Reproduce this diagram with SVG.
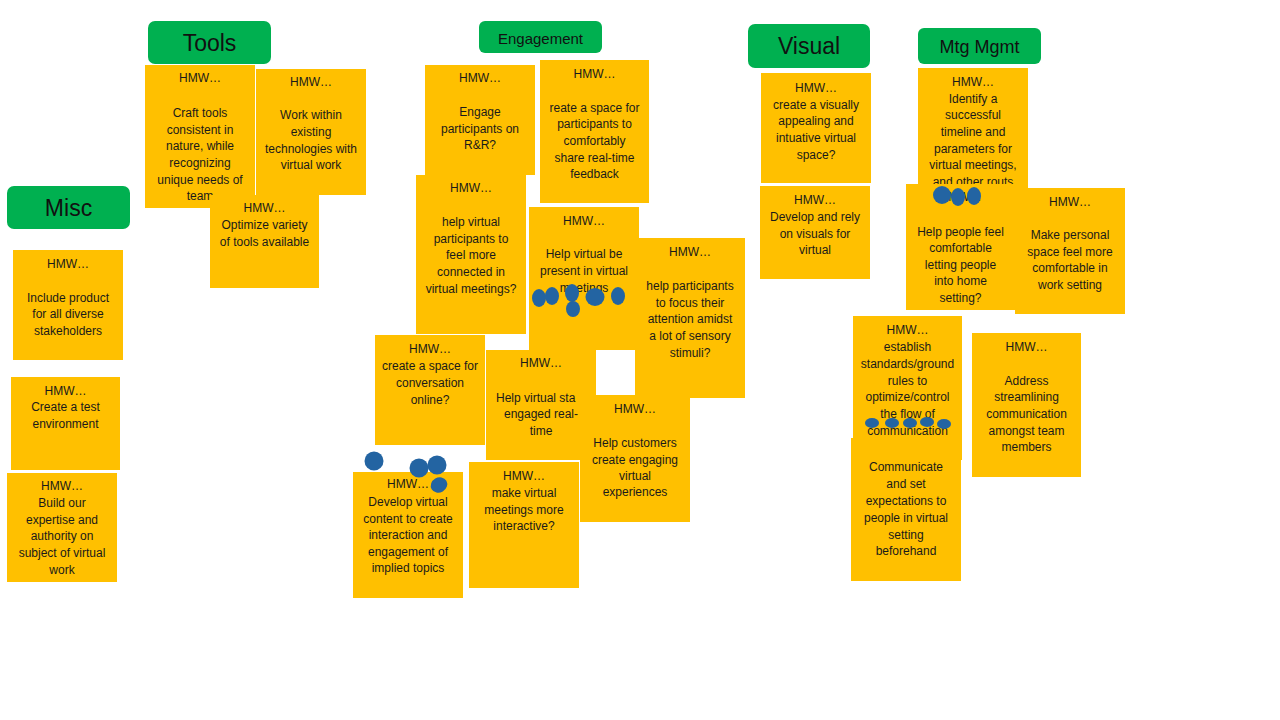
<svg xmlns="http://www.w3.org/2000/svg" width="1280" height="720" viewBox="0 0 1280 720">
<style>
.bg{fill:#ffffff}
.hdr{fill:#00B050}
.ht{font-family:"Liberation Sans",Arial,sans-serif;text-anchor:middle;fill:#111}
.note{fill:#FFC000}
.t{font-family:"Liberation Sans",Arial,sans-serif;font-size:12px;text-anchor:middle;fill:#1a1a1a}
.dot{fill:#2364A2}
</style>
<rect class="bg" x="0" y="0" width="1280" height="720"/>

<g id="hdr-tools"><rect class="hdr" x="148" y="21" width="123" height="43" rx="7"/><text class="ht" x="209.5" y="51" font-size="23">Tools</text></g>
<g id="hdr-misc"><rect class="hdr" x="7" y="186" width="123" height="43" rx="7"/><text class="ht" x="68.5" y="216" font-size="23">Misc</text></g>
<g id="hdr-engagement"><rect class="hdr" x="479" y="21" width="123" height="32" rx="6"/><text class="ht" x="540.5" y="44" font-size="15">Engagement</text></g>
<g id="hdr-visual"><rect class="hdr" x="748" y="24" width="122" height="44" rx="7"/><text class="ht" x="809" y="54" font-size="23">Visual</text></g>
<g id="hdr-mtg"><rect class="hdr" x="918" y="28" width="123" height="36" rx="6"/><text class="ht" x="979.5" y="53" font-size="18">Mtg Mgmt</text></g>

<g id="note-craft"><rect class="note" x="145" y="65" width="110" height="143"/>
<text class="t" x="200" y="82">HMW…</text><text class="t" x="200" y="117">Craft tools</text><text class="t" x="200" y="134">consistent in</text><text class="t" x="200" y="150">nature, while</text><text class="t" x="200" y="167">recognizing</text><text class="t" x="200" y="184">unique needs of</text><text class="t" x="200" y="200">team</text></g>
<g id="note-work"><rect class="note" x="256" y="69" width="110" height="126"/>
<text class="t" x="311" y="86">HMW…</text><text class="t" x="311" y="119">Work within</text><text class="t" x="311" y="136">existing</text><text class="t" x="311" y="153">technologies with</text><text class="t" x="311" y="169">virtual work</text></g>
<g id="note-optimize"><rect class="note" x="210" y="195" width="109" height="93"/>
<text class="t" x="264.5" y="212">HMW…</text><text class="t" x="264.5" y="229">Optimize variety</text><text class="t" x="264.5" y="246">of tools available</text></g>

<g id="note-include"><rect class="note" x="13" y="250" width="110" height="110"/>
<text class="t" x="68" y="268">HMW…</text><text class="t" x="68" y="302">Include product</text><text class="t" x="68" y="318">for all diverse</text><text class="t" x="68" y="335">stakeholders</text></g>
<g id="note-test"><rect class="note" x="11" y="377" width="109" height="93"/>
<text class="t" x="65.5" y="395">HMW…</text><text class="t" x="65.5" y="411">Create a test</text><text class="t" x="65.5" y="428">environment</text></g>
<g id="note-build"><rect class="note" x="7" y="473" width="110" height="109"/>
<text class="t" x="62" y="490">HMW…</text><text class="t" x="62" y="507">Build our</text><text class="t" x="62" y="524">expertise and</text><text class="t" x="62" y="540">authority on</text><text class="t" x="62" y="557">subject of virtual</text><text class="t" x="62" y="574">work</text></g>

<g id="note-engage"><rect class="note" x="425" y="65" width="110" height="110"/>
<text class="t" x="480" y="82">HMW…</text><text class="t" x="480" y="116">Engage</text><text class="t" x="480" y="133">participants on</text><text class="t" x="480" y="149">R&amp;R?</text></g>
<g id="note-reate"><rect class="note" x="540" y="60" width="109" height="143"/>
<text class="t" x="594.5" y="78">HMW…</text><text class="t" x="594.5" y="112">reate a space for</text><text class="t" x="594.5" y="128">participants to</text><text class="t" x="594.5" y="145">comfortably</text><text class="t" x="594.5" y="162">share real-time</text><text class="t" x="594.5" y="178">feedback</text></g>
<g id="note-connected"><rect class="note" x="416" y="175" width="110" height="159"/>
<text class="t" x="471" y="192">HMW…</text><text class="t" x="471" y="226">help virtual</text><text class="t" x="471" y="243">participants to</text><text class="t" x="471" y="259">feel more</text><text class="t" x="471" y="276">connected in</text><text class="t" x="471" y="293">virtual meetings?</text></g>
<g id="note-present"><rect class="note" x="529" y="207" width="110" height="143"/>
<text class="t" x="584" y="225">HMW…</text><text class="t" x="584" y="258">Help virtual be</text><text class="t" x="584" y="275">present in virtual</text><text class="t" x="584" y="292">meetings</text>
<ellipse class="dot" cx="539" cy="298" rx="7" ry="9"/><ellipse class="dot" cx="552" cy="296" rx="7" ry="9"/><ellipse class="dot" cx="572" cy="293" rx="7" ry="9"/><ellipse class="dot" cx="573" cy="309" rx="7" ry="8"/><ellipse class="dot" cx="595" cy="297" rx="9.5" ry="9"/><ellipse class="dot" cx="618" cy="296" rx="7" ry="9"/></g>
<g id="note-focus"><rect class="note" x="635" y="238" width="110" height="160"/>
<text class="t" x="690" y="256">HMW…</text><text class="t" x="690" y="290">help participants</text><text class="t" x="690" y="307">to focus their</text><text class="t" x="690" y="323">attention amidst</text><text class="t" x="690" y="340">a lot of sensory</text><text class="t" x="690" y="357">stimuli?</text></g>
<g id="note-conversation"><rect class="note" x="375" y="335" width="110" height="110"/>
<text class="t" x="430" y="353">HMW…</text><text class="t" x="430" y="370">create a space for</text><text class="t" x="430" y="387">conversation</text><text class="t" x="430" y="404">online?</text></g>
<g id="note-stay"><rect class="note" x="486" y="350" width="110" height="110"/>
<text class="t" x="541" y="367">HMW…</text><text class="t" x="496" y="402" style="text-anchor:start">Help virtual sta</text><text class="t" x="541" y="418">engaged real-</text><text class="t" x="541" y="435">time</text></g>
<g id="note-customers"><rect class="note" x="580" y="395" width="110" height="127"/>
<text class="t" x="635" y="413">HMW…</text><text class="t" x="635" y="447">Help customers</text><text class="t" x="635" y="464">create engaging</text><text class="t" x="635" y="480">virtual</text><text class="t" x="635" y="496">experiences</text></g>
<g id="note-interactive"><rect class="note" x="469" y="462" width="110" height="126"/>
<text class="t" x="524" y="480">HMW…</text><text class="t" x="524" y="497">make virtual</text><text class="t" x="524" y="514">meetings more</text><text class="t" x="524" y="530">interactive?</text></g>
<g id="note-content"><rect class="note" x="353" y="472" width="110" height="126"/>
<text class="t" x="408" y="488">HMW…</text><text class="t" x="408" y="506">Develop virtual</text><text class="t" x="408" y="523">content to create</text><text class="t" x="408" y="539">interaction and</text><text class="t" x="408" y="556">engagement of</text><text class="t" x="408" y="572">implied topics</text>
<circle class="dot" cx="374" cy="461" r="9.5"/><circle class="dot" cx="419" cy="468" r="9.5"/><circle class="dot" cx="437" cy="465" r="9.5"/><ellipse class="dot" cx="439" cy="485" rx="8.5" ry="7.5" transform="rotate(-30 439 485)"/></g>

<g id="note-appealing"><rect class="note" x="761" y="73" width="110" height="110"/>
<text class="t" x="816" y="92">HMW…</text><text class="t" x="816" y="109">create a visually</text><text class="t" x="816" y="125">appealing and</text><text class="t" x="816" y="142">intuative virtual</text><text class="t" x="816" y="159">space?</text></g>
<g id="note-visuals"><rect class="note" x="760" y="186" width="110" height="93"/>
<text class="t" x="815" y="204">HMW…</text><text class="t" x="815" y="221">Develop and rely</text><text class="t" x="815" y="238">on visuals for</text><text class="t" x="815" y="254">virtual</text></g>

<g id="note-timeline"><rect class="note" x="918" y="68" width="110" height="127"/>
<text class="t" x="973" y="86">HMW…</text><text class="t" x="973" y="103">Identify a</text><text class="t" x="973" y="119">successful</text><text class="t" x="973" y="136">timeline and</text><text class="t" x="973" y="153">parameters for</text><text class="t" x="973" y="169">virtual meetings,</text><text class="t" x="973" y="186">and other routs</text></g>
<g id="note-home"><rect class="note" x="906" y="184" width="109" height="126"/>
<text class="t" x="960.5" y="201">HMW…</text><text class="t" x="960.5" y="236">Help people  feel</text><text class="t" x="960.5" y="252">comfortable</text><text class="t" x="960.5" y="269">letting people</text><text class="t" x="960.5" y="285">into home</text><text class="t" x="960.5" y="302">setting?</text>
<ellipse class="dot" cx="942" cy="195" rx="9" ry="9"/><ellipse class="dot" cx="958" cy="197" rx="7" ry="9"/><ellipse class="dot" cx="974" cy="196" rx="7" ry="9"/></g>
<g id="note-personal"><rect class="note" x="1015" y="188" width="110" height="126"/>
<text class="t" x="1070" y="206">HMW…</text><text class="t" x="1070" y="239">Make personal</text><text class="t" x="1070" y="256">space feel  more</text><text class="t" x="1070" y="272">comfortable in</text><text class="t" x="1070" y="289">work setting</text></g>
<g id="note-standards"><rect class="note" x="853" y="316" width="109" height="144"/>
<text class="t" x="907.5" y="334">HMW…</text><text class="t" x="907.5" y="351">establish</text><text class="t" x="907.5" y="368">standards/ground</text><text class="t" x="907.5" y="385">rules  to</text><text class="t" x="907.5" y="401">optimize/control</text><text class="t" x="907.5" y="418">the flow of</text><text class="t" x="907.5" y="435">communication</text>
<ellipse class="dot" cx="872" cy="423" rx="7" ry="5"/><ellipse class="dot" cx="892" cy="423" rx="7" ry="5"/><ellipse class="dot" cx="910" cy="423" rx="7" ry="5"/><ellipse class="dot" cx="927" cy="422" rx="7" ry="5"/><ellipse class="dot" cx="944" cy="424" rx="7" ry="5"/></g>
<g id="note-communicate"><rect class="note" x="851" y="438" width="110" height="143"/>
<text class="t" x="906" y="471">Communicate</text><text class="t" x="906" y="488">and set</text><text class="t" x="906" y="505">expectations to</text><text class="t" x="906" y="522">people in virtual</text><text class="t" x="906" y="539">setting</text><text class="t" x="906" y="555">beforehand</text></g>
<g id="note-streamline"><rect class="note" x="972" y="333" width="109" height="144"/>
<text class="t" x="1026.5" y="351">HMW…</text><text class="t" x="1026.5" y="385">Address</text><text class="t" x="1026.5" y="401">streamlining</text><text class="t" x="1026.5" y="418">communication</text><text class="t" x="1026.5" y="435">amongst team</text><text class="t" x="1026.5" y="451">members</text></g>
<g id="connectors"/>
</svg>
